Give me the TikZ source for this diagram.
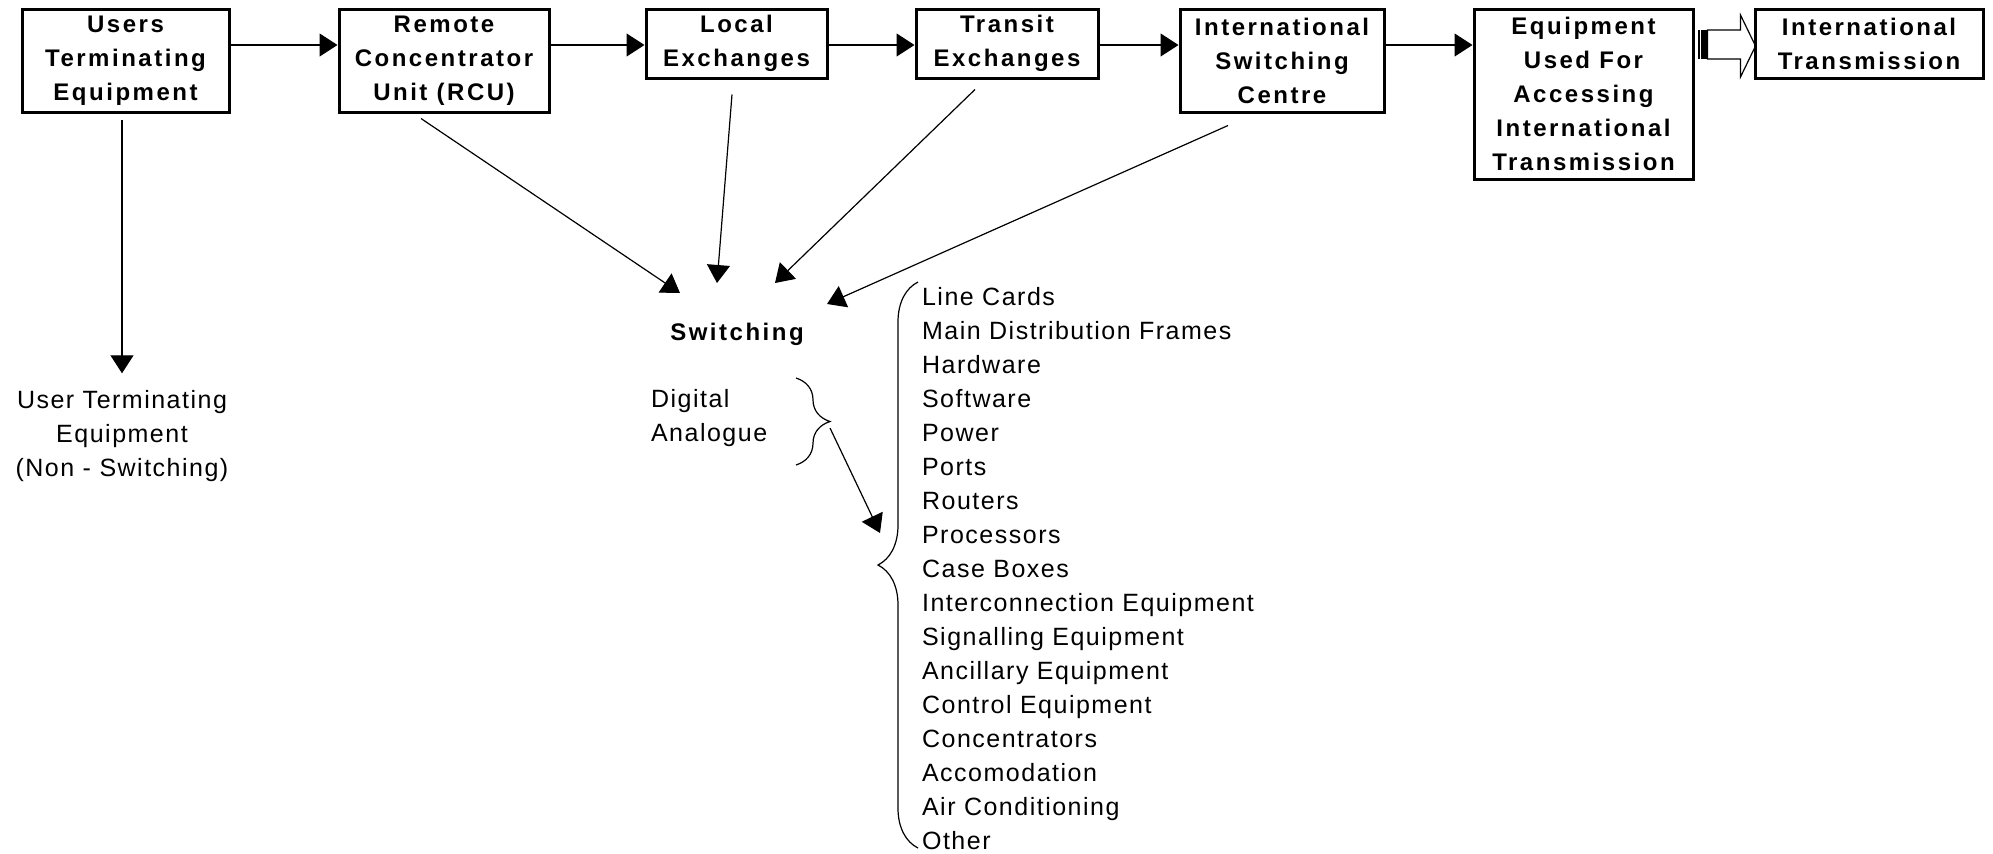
\documentclass[tikz,border=0pt]{standalone}
\usepackage{fontspec}
\setmainfont{Liberation Sans}[LetterSpace=6,BoldFeatures={LetterSpace=10.5}]
\usetikzlibrary{arrows.meta,calc,decorations.pathreplacing}

\tikzset{
  blk/.style={draw, line width=1.5pt, align=center, inner sep=0pt,
    font=\fontsize{12}{17}\selectfont\bfseries},
  txt/.style={font=\fontsize{12.5}{17}\selectfont},
  bld/.style={font=\fontsize{12}{17}\selectfont\bfseries},
  arr/.style={-{Triangle[length=9pt,width=11.5pt]}, line width=0.6pt},
  brc/.style={decorate, decoration={brace, aspect=0.5}, line width=0.6pt},
}

\begin{document}
\begin{tikzpicture}[x=0.5pt, y=-0.5pt]
  \useasboundingbox (0,0) rectangle (1993,853);

  \coordinate (row) at (0,45);

  %% chain of boxes
  \node[blk, minimum width=103.5pt, minimum height=51.5pt] (ute) at (125.5,60.5) {Users\\Terminating\\Equipment};
  \node[blk, minimum width=105pt, minimum height=51.5pt] (rcu) at (444,60.5) {Remote\\Concentrator\\Unit (RCU)};
  \node[blk, minimum width=90.5pt, minimum height=34.5pt] (lex) at (736.5,43.5) {Local\\Exchanges};
  \node[blk, minimum width=91pt, minimum height=34.5pt] (tex) at (1007,43.5) {Transit\\Exchanges};
  \node[blk, minimum width=102pt, minimum height=51.5pt] (isc) at (1282,60.5) {International\\Switching\\Centre};
  \node[blk, minimum width=109.5pt, minimum height=85pt] (eqa) at (1583.5,94) {Equipment\\Used For\\Accessing\\International\\Transmission};
  \node[blk, minimum width=114pt, minimum height=34.5pt] (itr) at (1869,43.5) {International\\Transmission};

  \draw[arr] (ute.east |- row) -- (rcu.west |- row);
  \draw[arr] (rcu.east |- row) -- (lex.west |- row);
  \draw[arr] (lex.east |- row) -- (tex.west |- row);
  \draw[arr] (tex.east |- row) -- (isc.west |- row);
  \draw[arr] (isc.east |- row) -- (eqa.west |- row);

  %% striped block arrow
  \begin{scope}[shift={(eqa.east |- row)}]
    \fill (3,-15) rectangle (5,14);
    \fill (6,-15) rectangle (13,14);
    \draw[line width=0.6pt] (13,-15) -- (46,-15) -- (46,-30) -- (61,1) -- (46,32) -- (46,14) -- (13,14) -- cycle;
  \end{scope}

  %% non switching branch
  \node[txt, align=center] (nst) at (122,436) {User Terminating\\Equipment\\(Non - Switching)};
  \draw[arr, shorten <=3pt, shorten >=5pt] (ute.south -| nst.north) -- (nst.north);

  %% switching
  \node[bld] (sw) at (737,334.5) {Switching};
  \coordinate (in1) at ($(sw)+(-57,-41.5)$);
  \coordinate (in2) at ($(sw)+(-20,-51.5)$);
  \coordinate (in3) at ($(sw)+(38,-51.5)$);
  \coordinate (in4) at ($(sw)+(90,-30.5)$);

  \draw[arr] ($(rcu.south)+(-23,5)$) -- (in1);
  \draw[arr] ($(lex.south)+(-4.5,15)$) -- (in2);
  \draw[arr] ($(tex.south)+(-32,10)$) -- (in3);
  \draw[arr] ($(isc.south)+(-54,12)$) -- (in4);

  \node[txt, align=left, anchor=west] (dig) at (644,418) {Digital\\Analogue};
  \draw[brc, decoration={amplitude=17pt}] (796,378) -- (796,465);

  %% equipment list
  \node[txt, align=left, anchor=west] (lst) at (915,568.5) {Line Cards\\Main Distribution Frames\\Hardware\\Software\\Power\\Ports\\Routers\\Processors\\Case Boxes\\Interconnection Equipment\\Signalling Equipment\\Ancillary Equipment\\Control Equipment\\Concentrators\\Accomodation\\Air Conditioning\\Other};
  \draw[brc, decoration={amplitude=20pt}] (918,848) -- (918,282);

  \coordinate (dtip) at (830,428);
  \coordinate (ltip) at (880,533);
  \draw[arr] (dtip) -- (ltip);
\end{tikzpicture}
\end{document}
